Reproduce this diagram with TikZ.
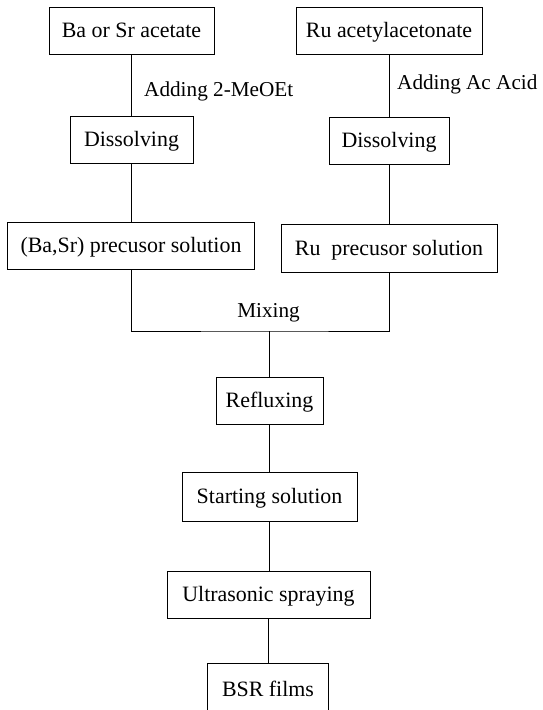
\documentclass[tikz,border=0pt]{standalone}
\usepackage{fontspec}
\setmainfont{Liberation Serif}
\begin{document}
\begin{tikzpicture}[x=1bp,y=-1bp,
  box/.style={draw, line width=0.8bp, inner sep=0pt, minimum height=47bp,
    text height=14bp, text depth=0bp, font=\fontsize{22}{25}\selectfont},
  lbl/.style={inner sep=0pt, anchor=west, text height=14bp, text depth=0bp,
    font=\fontsize{21.3}{25}\selectfont},
  link/.style={draw, line width=0.8bp}]
\useasboundingbox (0,0) rectangle (543,710);
\clip (0,0) rectangle (543,710);
\fill[white] (0,0) rectangle (543,710);
% left branch
\node[box, minimum width=165bp] (ba) at (131.5,30.5) {Ba or Sr acetate};
\node[box, minimum width=123bp] (disL) at (131.5,139.5) {Dissolving};
\node[box, minimum width=247bp] (precL) at (131,245.5) {(Ba,Sr) precusor solution};
% right branch
\node[box, minimum width=186bp] (ru) at (389,30.5) {Ru acetylacetonate};
\node[box, minimum width=120bp] (disR) at (389,140.5) {Dissolving};
\node[box, minimum width=216bp, minimum height=48bp] (precR) at (389,248) {Ru~~precusor solution};
% labels
\node[lbl] (addL) at (144,90) {Adding 2-MeOEt};
\node[lbl] (addR) at (397,83) {Adding Ac Acid};
\node[lbl, anchor=center] (mixlbl) at (268.5,310) {Mixing};
% main column
\node[box, minimum width=107bp] (reflux) at (269.5,400.5) {Refluxing};
\node[box, minimum width=175bp, minimum height=49bp] (start) at (269.5,496.5) {Starting solution};
\node[box, minimum width=203bp] (ultra) at (268.5,594.5) {Ultrasonic spraying};
\node[box, minimum width=121bp, minimum height=52bp] (bsr) at (268,689) {BSR films};
\coordinate (mix) at (269,331);
% connectors
\draw[link] (ba) -- (disL);
\draw[link] (disL) -- (precL.north -| disL.south);
\draw[link] (ru) -- (disR);
\draw[link] (disR) -- (precR.north -| disR.south);
\draw[link] (precL.south) |- (mix) -| (precR.south);
\draw[link] (mix) -- (mix |- reflux.north);
\draw[link] (reflux) -- (start);
\draw[link] (start) -- (start.south |- ultra.north);
\draw[link] (bsr.north |- ultra.south) -- (bsr);
\end{tikzpicture}
\end{document}
